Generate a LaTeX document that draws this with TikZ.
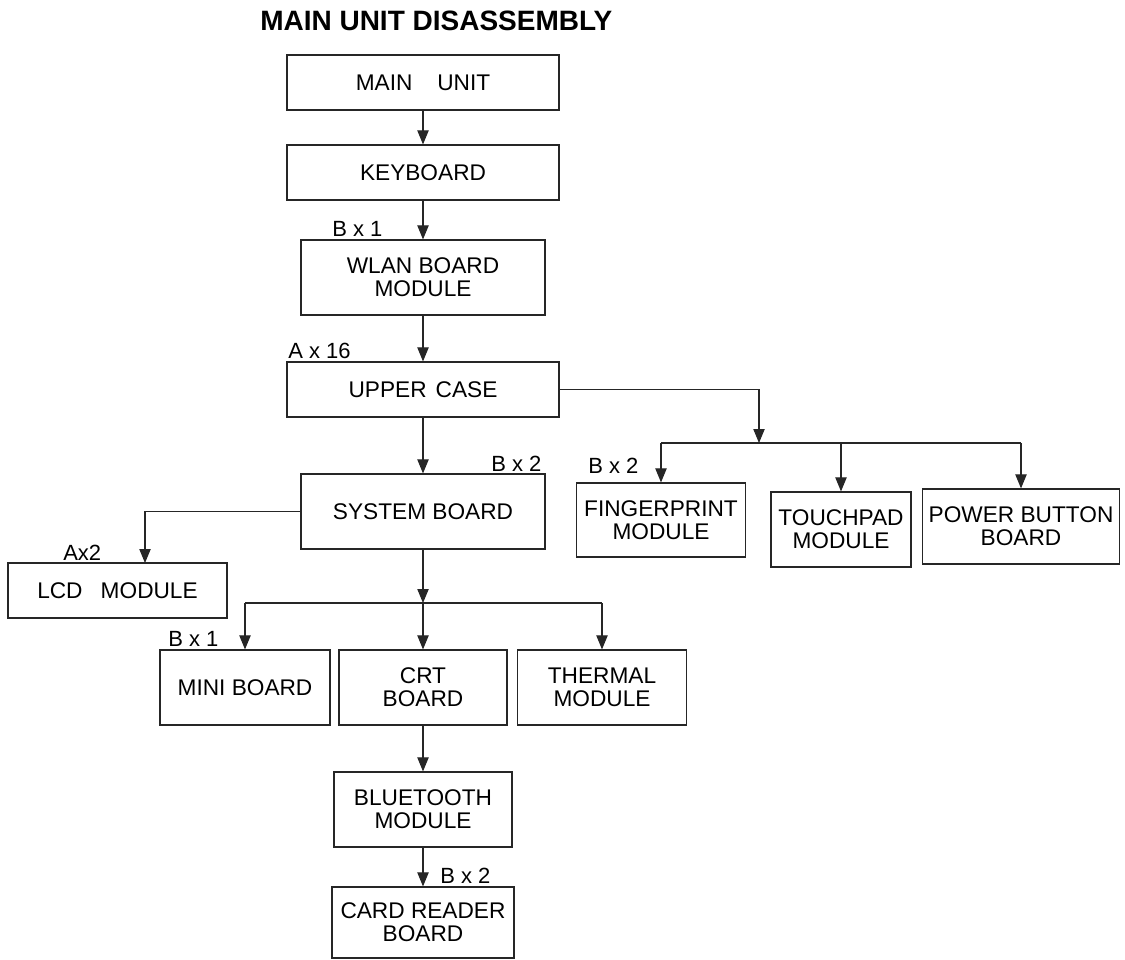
\documentclass[tikz,border=0pt]{standalone}
\usepackage{fontspec}
\setmainfont{Liberation Sans}
\usetikzlibrary{arrows.meta,calc}
\begin{document}
\begin{tikzpicture}[x=0.75pt,y=-0.75pt,
  box/.style={draw=black!85, line width=0.9pt, inner sep=0pt, align=center,
              font=\fontsize{17}{17.5}\selectfont},
  lbl/.style={inner sep=0pt, anchor=base west, font=\fontsize{16.5}{17}\selectfont},
  con/.style={draw=black!85, line width=0.8pt},
  arr/.style={con, -{Triangle[length=10.5pt,width=8.5pt]}},
  titlestyle/.style={inner sep=0pt, anchor=base west, font=\fontsize{21}{24}\selectfont\bfseries}]
\useasboundingbox (0,0) rectangle (1125,960);

\node[titlestyle] (title) at (260,30) {MAIN UNIT DISASSEMBLY};

% boxes
\node[box, minimum width=204pt, minimum height=41.25pt] (main) at (423,82.5) {MAIN\hspace{1.1em}UNIT};
\node[box, minimum width=204pt, minimum height=41.25pt] (kbd) at (423,172.5) {KEYBOARD};
\node[box, minimum width=183pt, minimum height=56.25pt] (wlan) at (423,277.5) {WLAN BOARD\\MODULE};
\node[box, minimum width=204pt, minimum height=41.25pt] (upper) at (423,389.5) {UPPER\hspace{0.4em}CASE};
\node[box, minimum width=183pt, minimum height=56.25pt] (sys) at (423,511.5) {SYSTEM BOARD};
\node[box, minimum width=164.25pt, minimum height=41.25pt] (lcd) at (117.5,590.5) {LCD\hspace{0.8em}MODULE};
\node[box, minimum width=127.5pt, minimum height=56.25pt] (mini) at (245,687.5) {MINI BOARD};
\node[box, minimum width=126pt, minimum height=56.25pt] (crt) at (423,687.5) {CRT\\BOARD};
\node[box, minimum width=126.75pt, minimum height=56.25pt] (thermal) at (602,687.5) {THERMAL\\MODULE};
\node[box, minimum width=133.5pt, minimum height=56.25pt] (bt) at (423,809.5) {BLUETOOTH\\MODULE};
\node[box, minimum width=136.5pt, minimum height=53.25pt] (card) at (423,922.5) {CARD READER\\BOARD};
\node[box, minimum width=126.75pt, minimum height=55.5pt] (fp) at (661,520) {FINGERPRINT\\MODULE};
\node[box, minimum width=105pt, minimum height=56.25pt] (tp) at (841,529.5) {TOUCHPAD\\MODULE};
\node[box, minimum width=147.75pt, minimum height=56.25pt] (pb) at (1021,526.5) {POWER BUTTON\\BOARD};

% labels
\node[lbl] (l1) at (332,236) {B x 1};
\node[lbl] (l2) at (288,358) {A x 16};
\node[lbl] (l3) at (491,471) {B x 2};
\node[lbl] (l4) at (588,473) {B x 2};
\node[lbl] (l5) at (63,560) {Ax2};
\node[lbl] (l6) at (168,646) {B x 1};
\node[lbl] (l7) at (440,883) {B x 2};

% helper coordinates
\coordinate (ub) at (759,443);
\coordinate (ubl) at (661,443);
\coordinate (ubr) at (1021,443);
\coordinate (lcdin) at (145,563);
\coordinate (sb) at (423,603);
\coordinate (sbl) at (245,603);
\coordinate (sbr) at (602,603);

% connectors
\draw[arr] (main) -- (kbd);
\draw[arr] (kbd) -- (wlan);
\draw[arr] (wlan) -- (upper);
\draw[arr] (upper) -- (sys);
\draw[arr] (upper.east) -| (ub);
\draw[con] (ubl) -- (ubr);
\draw[arr] (ubl) -- (fp.north);
\draw[arr] (tp.north |- ub) -- (tp.north);
\draw[arr] (ubr) -- (pb.north);
\draw[arr] (sys.west) -| (lcdin);
\draw[arr] (sys) -- (sb);
\draw[con] (sbl) -- (sbr);
\draw[arr] (sbl) -- (mini.north);
\draw[arr] (sb) -- (crt.north);
\draw[arr] (sbr) -- (thermal.north);
\draw[arr] (crt) -- (bt);
\draw[arr] (bt) -- (card);
\end{tikzpicture}
\end{document}
